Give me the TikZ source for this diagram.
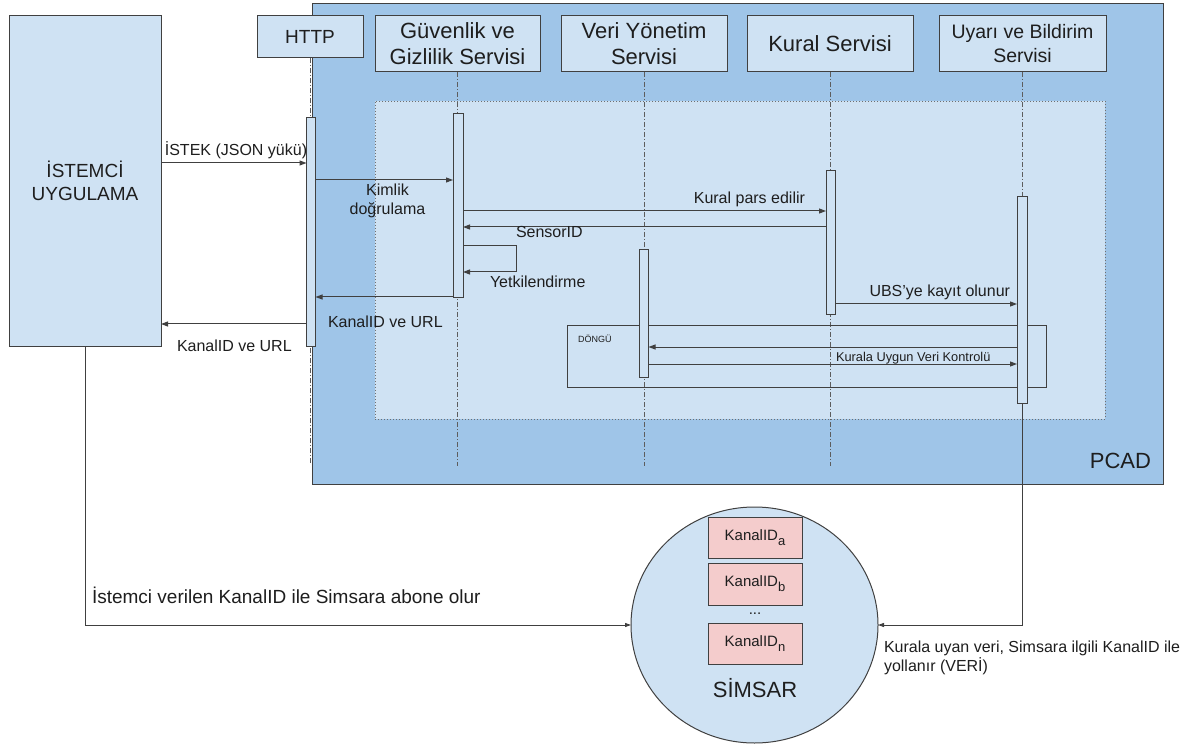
\documentclass[tikz,border=0pt]{standalone}
\usepackage{fontspec}
\setmainfont{Liberation Sans}
\usetikzlibrary{arrows.meta,shapes.geometric}

\definecolor{paleblue}{HTML}{CFE2F3}
\definecolor{midblue}{HTML}{9FC5E8}
\definecolor{chanpink}{HTML}{F4CCCC}
\definecolor{edge}{HTML}{404040}
\definecolor{ink}{HTML}{1E1E1E}

% channel index set as a large, low subscript
\newcommand{\chansub}[1]{\raisebox{-5pt}{\fontsize{13}{15}\selectfont #1}}

\tikzset{
  region/.style={draw=edge, fill=midblue, line width=1pt, inner sep=0pt, outer sep=0pt},
  zone/.style={draw=edge!75, fill=paleblue, line width=0.8pt, dash pattern=on 1pt off 2pt, inner sep=0pt, outer sep=0pt},
  box/.style={draw=edge, fill=paleblue, line width=1pt, text=ink, align=center, inner sep=0pt, outer sep=0pt},
  bar/.style={draw=edge, fill=paleblue, line width=1pt, minimum width=9pt, inner sep=0pt, outer sep=0pt},
  life/.style={draw=edge!85, line width=0.9pt, dash pattern=on 5pt off 2pt on 1pt off 2pt},
  msg/.style={draw=edge, line width=1pt, -{Triangle[length=7pt,width=5pt]}},
  link/.style={draw=edge, line width=1pt, -{Triangle[length=6pt,width=4pt]}},
  lbl/.style={text=ink, inner sep=0pt, outer sep=0pt, font=\fontsize{16}{19}\selectfont},
  chan/.style={draw=edge, fill=chanpink, line width=1pt, minimum width=94pt, text=ink,
    inner sep=0pt, outer sep=0pt, font=\fontsize{15}{18}\selectfont},
  frame/.style={draw=edge, line width=1pt, inner sep=0pt, outer sep=0pt}
}

\begin{document}
\begin{tikzpicture}[x=1pt,y=-1pt]
\useasboundingbox (0,0) rectangle (1186,751);
\fill[white] (0,0) rectangle (1186,751);

% PCAD container and its inner zone
\node[region, minimum width=851pt, minimum height=480pt] (pcad) at (737.5,244) {};
\node[lbl, font=\fontsize{22}{26}\selectfont, anchor=base east] (pcadname) at (1151,468) {PCAD};
\node[zone, minimum width=730pt, minimum height=318pt] (core) at (740,260) {};

% client application
\node[box, minimum width=152pt, minimum height=330pt, font=\fontsize{19}{22.5}\selectfont] (client) at (85,181) {İSTEMCİ\\UYGULAMA};

% participant headers
\node[box, minimum width=106pt, minimum height=42pt, font=\fontsize{19}{22}\selectfont] (http) at (310,37) {HTTP};
\node[box, minimum width=165pt, minimum height=56pt, font=\fontsize{22}{26}\selectfont] (guv) at (457.5,44) {Güvenlik ve\\Gizlilik Servisi};
\node[box, minimum width=166pt, minimum height=56pt, font=\fontsize{22}{26}\selectfont] (veri) at (644,44) {Veri Yönetim\\Servisi};
\node[box, minimum width=166pt, minimum height=56pt, font=\fontsize{22}{26}\selectfont] (kural) at (830,44) {Kural Servisi};
\node[box, minimum width=167pt, minimum height=56pt, font=\fontsize{19.5}{24}\selectfont] (uyari) at (1022.5,44) {Uyarı ve Bildirim\\Servisi};

% lifelines
\draw[life] (http.south) -- (http.south |- 0,463);
\draw[life] (guv.south) -- (guv.south |- 0,466);
\draw[life] (veri.south) -- (veri.south |- 0,466);
\draw[life] (kural.south) -- (kural.south |- 0,466);
\draw[life] (uyari.south) -- (uyari.south |- 0,403);

% loop frame
\node[frame, minimum width=479pt, minimum height=61pt] (loop) at (806.5,356.5) {};
\node[lbl, font=\fontsize{9}{11}\selectfont, anchor=base west] (looptag) at (578,342) {DÖNGÜ};

% activation bars
\node[bar, minimum height=228pt] (httpbar) at (311,232) {};
\node[bar, minimum height=184pt, minimum width=10pt] (guvbar) at (458,206) {};
\node[bar, minimum height=127pt] (veribar) at (644,313.5) {};
\node[bar, minimum height=144pt] (kuralbar) at (830.5,243) {};
\node[bar, minimum height=206pt, minimum width=10pt] (uyaribar) at (1022,300) {};

% messages
\draw[msg] (client.east |- 0,163) -- (httpbar.west |- 0,163);
\node[lbl, anchor=base] (m1) at (236,156) {İSTEK (JSON yükü)};

\draw[msg] (httpbar.east |- 0,180) -- (guvbar.west |- 0,180);
\node[lbl, align=center] (m2) at (387.5,200.5) {Kimlik\\doğrulama};

\draw[msg] (guvbar.east |- 0,211) -- (kuralbar.west |- 0,211);
\node[lbl, anchor=base east] (m3) at (805,204) {Kural pars edilir};

\draw[msg] (kuralbar.west |- 0,227) -- (guvbar.east |- 0,227);
\node[lbl, anchor=base west] (m4) at (516,238) {SensorID};

\draw[msg] (guvbar.east |- 0,246) -- ++(53,0) -- ++(0,26) -- (guvbar.east |- 0,272);
\node[lbl, anchor=base west] (m5) at (490,288) {Yetkilendirme};

\draw[msg] (guvbar.west |- 0,297) -- (httpbar.east |- 0,297);
\node[lbl, anchor=base west] (m6) at (328,327) {KanalID ve URL};

\draw[msg] (httpbar.west |- 0,324) -- (client.east |- 0,324);
\node[lbl, anchor=base west] (m7) at (177,352) {KanalID ve URL};

\draw[msg] (kuralbar.east |- 0,304) -- (uyaribar.west |- 0,304);
\node[lbl, anchor=base east] (m8) at (1010,297) {UBS’ye kayıt olunur};

\draw[msg] (uyaribar.west |- 0,347) -- (veribar.east |- 0,347);
\draw[msg] (veribar.east |- 0,364) -- (uyaribar.west |- 0,364);
\node[lbl, font=\fontsize{12.8}{15}\selectfont, anchor=base west] (m9) at (836,361) {Kurala Uygun Veri Kontrolü};

% broker with its channels
\node[draw=edge, fill=paleblue, line width=1pt, ellipse, minimum width=247pt, minimum height=236pt, inner sep=0pt, outer sep=0pt] (simsar) at (754.5,625) {};
\node[chan, minimum height=41pt] (cha) at (755,537.5) {KanalID\chansub{a}};
\node[chan, minimum height=42pt] (chb) at (755,584) {KanalID\chansub{b}};
\node[lbl, font=\fontsize{15}{18}\selectfont, anchor=base] (chdots) at (755,614) {...};
\node[chan, minimum height=41pt] (chn) at (755,643.5) {KanalID\chansub{n}};
\node[lbl, font=\fontsize{22}{26}\selectfont, anchor=base] (simsarname) at (755,697) {SİMSAR};

% subscription and delivery paths
\draw[link] (client.south) |- (simsar.west);
\node[lbl, font=\fontsize{19}{22}\selectfont, anchor=base west] (sub) at (92,603) {İstemci verilen KanalID ile Simsara abone olur};

\draw[link] (uyaribar.south) |- (simsar.east);
\node[lbl, align=left, anchor=west] (deliver) at (884,658) {Kurala uyan veri, Simsara ilgili KanalID ile\\yollanır (VERİ)};
\end{tikzpicture}
\end{document}
